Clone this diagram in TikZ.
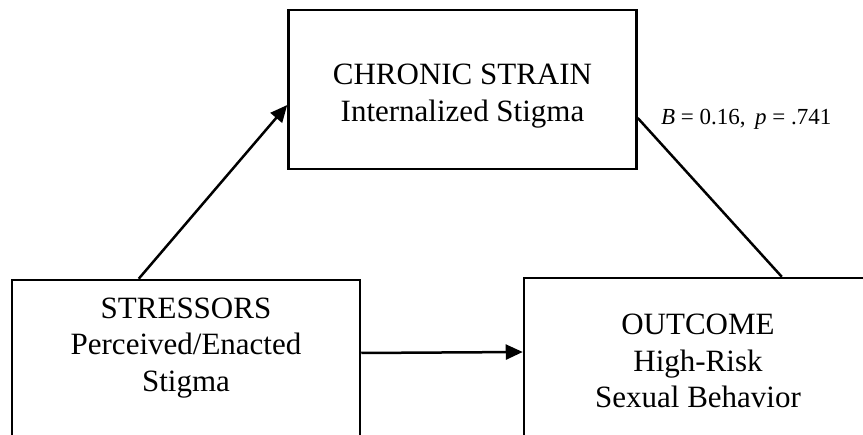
\documentclass[tikz,border=0pt]{standalone}
\usepackage{fontspec}
\setmainfont{Liberation Serif}
\usetikzlibrary{positioning,arrows.meta}

\begin{document}
\begin{tikzpicture}[x=1pt, y=-1pt,
boxnode/.style={rectangle, draw=black, line width=2.5pt, minimum width=348pt, inner sep=0pt},
textnode/.style={align=center, font=\fontsize{31}{36.5}\selectfont, inner sep=0pt},
labelnode/.style={font=\fontsize{23}{27}\selectfont, inner sep=0pt},
linkline/.style={line width=2.5pt},
arrowline/.style={line width=2.5pt, -{Triangle[length=17pt,width=15pt]}},
]
\useasboundingbox (0,0) rectangle (863,435);
\clip (0,0) rectangle (863,435);
%Nodes
\node[boxnode, minimum height=159pt]      (chronic)      at (462.5,89.5)     {};
\node[boxnode, minimum height=200pt]      (stressors)    at (186,380)        {};
\node[boxnode, minimum height=200pt]      (outcome)      at (698,378)        {};
\node[textnode]      (chronictext)      at (462.5,96)     {CHRONIC STRAIN\\Internalized Stigma};
\node[textnode]      (stressorstext)    at (186,348)      {STRESSORS\\Perceived/Enacted\\Stigma};
\node[textnode]      (outcometext)      at (698,361)      {OUTCOME\\High-Risk\\Sexual Behavior};

%Lines
\draw[arrowline] ([xshift=128pt]stressors.north west) -- ([yshift=-15.5pt]chronic.west);
\draw[arrowline] ([yshift=27pt]stressors.east) -- ([yshift=26pt]outcome.west);
\draw[linkline] ([yshift=-28.5pt]chronic.east) -- ([xshift=259pt]outcome.north west)
      node[labelnode, pos=0, anchor=west, xshift=22pt, yshift=-1pt] (pathlabel) {\textit{B} = 0.16,\, \textit{p} = .741};
\end{tikzpicture}
\end{document}
